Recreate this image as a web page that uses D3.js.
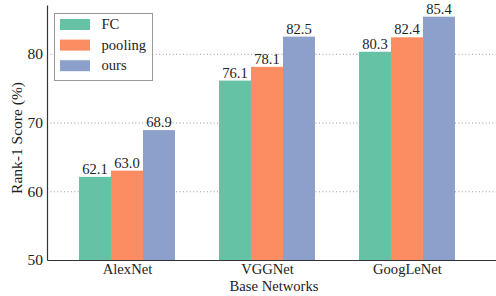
<!DOCTYPE html>
<html lang='en'>
  <head>
    <meta charset='utf-8'>
    <title>Rank-1 Score by Base Network</title>
    <script type='text/javascript' src='https://cdnjs.cloudflare.com/ajax/libs/d3/7.8.5/d3.min.js'></script>
    <style type='text/css'>
    body{ margin: 0; background: #fff; }
    text{ font-family: 'Liberation Serif', 'DejaVu Serif', serif; fill: #222; }
    </style>
  </head>
  <body>
    <script type='text/javascript'>

    var networks = ['AlexNet', 'VGGNet', 'GoogLeNet'];
    var methods = ['FC', 'pooling', 'ours'];
    var fcScores = [62.1, 76.1, 80.3];
    var poolingScores = [63.0, 78.1, 82.4];
    var oursScores = [68.9, 82.5, 85.4];
    var yTicks = [50, 60, 70, 80];
    var colors = ['#66c2a5', '#fc8d62', '#8da0cb'];

    var series = [fcScores, poolingScores, oursScores];

    var w = 496;
    var h = 296;
    var padLeft = 47, padTop = 5, axisY = 260, padRight = 496;

    var svg = d3.select('body')
                .append('svg')
                .attr('width', w)
                .attr('height', h);

    // group index -> pixel
    var xScale = d3.scaleLinear()
                   .domain([-0.5714, 2.636])
                   .range([padLeft, padRight]);

    var yScale = d3.scaleLinear()
                   .domain([50, 87.1])
                   .range([axisY, padTop]);

    var barW = 0.2286;
    var barPx = xScale(barW) - xScale(0);

    // dotted grid
    svg.selectAll('line.grid')
       .data(yTicks.slice(1))
       .enter()
       .append('line')
       .attr('class', 'grid')
       .attr('x1', padLeft)
       .attr('x2', padRight)
       .attr('y1', function(d){ return yScale(d) + 0.5; })
       .attr('y2', function(d){ return yScale(d) + 0.5; })
       .attr('stroke', '#999')
       .attr('stroke-width', 1)
       .attr('stroke-dasharray', '1,2.4');

    // bars
    series.forEach(function(vals, s){
      var g = svg.append('g');
      g.selectAll('rect')
       .data(vals)
       .enter()
       .append('rect')
       .attr('x', function(d, i){ return xScale(i + (s - 1.5) * barW); })
       .attr('y', function(d){ return yScale(d); })
       .attr('width', barPx)
       .attr('height', function(d){ return yScale(50) - yScale(d); })
       .attr('fill', colors[s]);

      g.selectAll('text')
       .data(vals)
       .enter()
       .append('text')
       .attr('x', function(d, i){ return xScale(i + (s - 1) * barW); })
       .attr('y', function(d){ return yScale(d) - 3; })
       .attr('text-anchor', 'middle')
       .attr('font-size', '14.6px')
       .text(function(d){ return d.toFixed(1); });
    });

    // y axis
    var yAxis = d3.axisLeft(yScale)
                  .tickValues(yTicks)
                  .tickSize(0)
                  .tickPadding(4);

    var yG = svg.append('g')
       .attr('transform', 'translate(' + padLeft + ',0)')
       .call(yAxis);
    yG.select('.domain').attr('stroke', '#333').attr('stroke-width', 1.2);
    yG.selectAll('text').attr('font-size', '15.5px').attr('fill', '#222')
      .attr('font-family', "'Liberation Serif', serif");

    // x axis
    var xAxis = d3.axisBottom(xScale)
                  .tickValues([0, 1, 2])
                  .tickFormat(function(d){ return networks[d]; })
                  .tickSize(0)
                  .tickPadding(4);

    var xG = svg.append('g')
       .attr('transform', 'translate(0,' + axisY + ')')
       .call(xAxis);
    xG.select('.domain').attr('stroke', '#333').attr('stroke-width', 1.2);
    xG.selectAll('text').attr('font-size', '14.6px').attr('fill', '#222')
      .attr('font-family', "'Liberation Serif', serif");

    // axis titles
    svg.append('text')
       .attr('x', 274)
       .attr('y', 291)
       .attr('text-anchor', 'middle')
       .attr('font-size', '14.6px')
       .text('Base Networks');

    svg.append('text')
       .attr('transform', 'translate(22,138) rotate(-90)')
       .attr('text-anchor', 'middle')
       .attr('font-size', '15.5px')
       .text('Rank-1 Score (%)');

    // legend
    var lg = svg.append('g').attr('transform', 'translate(54.5,13.5)');
    lg.append('rect')
      .attr('width', 98)
      .attr('height', 67)
      .attr('fill', '#fff')
      .attr('stroke', '#999')
      .attr('stroke-width', 1);

    methods.forEach(function(m, i){
      lg.append('rect')
        .attr('x', 5.5)
        .attr('y', 5.5 + i * 20.6)
        .attr('width', 30)
        .attr('height', 11)
        .attr('fill', colors[i]);
      lg.append('text')
        .attr('x', 47)
        .attr('y', 15.5 + i * 20.6)
        .attr('font-size', '14.6px')
        .text(m);
    });

    </script>
  </body>
</html>
